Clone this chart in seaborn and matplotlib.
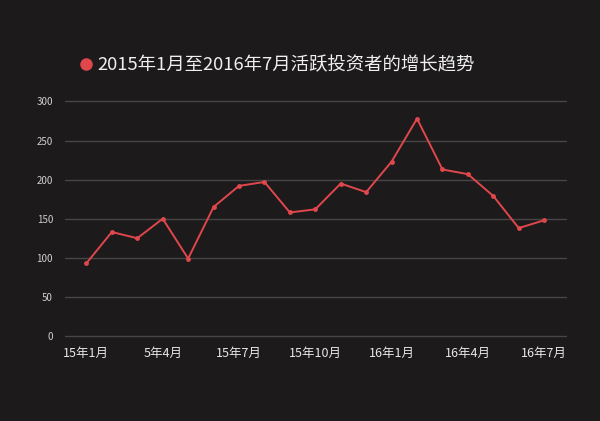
import matplotlib
matplotlib.use("Agg")
import matplotlib.pyplot as plt
import seaborn as sns
import pandas as pd
from matplotlib.lines import Line2D

months = ["15年1月", "15年2月", "15年3月", "5年4月", "15年5月", "15年6月", "15年7月",
          "15年8月", "15年9月", "15年10月", "15年11月", "15年12月", "16年1月",
          "16年2月", "16年3月", "16年4月", "16年5月", "16年6月", "16年7月"]
investors = [93, 133, 125, 150, 99, 165, 192, 197, 158, 162, 195, 184,
             223, 278, 213, 207, 179, 138, 148]
shown_ticks = [0, 3, 6, 9, 12, 15, 18]
title = "2015年1月至2016年7月活跃投资者的增长趋势"

df = pd.DataFrame({"idx": range(len(months)), "month": months, "value": investors})

bg = "#1c1a1b"
red = "#e0474c"

sns.set_theme(style="dark")
plt.rcParams["font.family"] = ["Noto Sans CJK SC", "DejaVu Sans"]

fig = plt.figure(figsize=(6, 4.21), dpi=100, facecolor=bg)
ax = fig.add_axes([0.108, 0.202, 0.835, 0.557])
ax.set_facecolor(bg)

sns.lineplot(data=df, x="idx", y="value", ax=ax, color=red, linewidth=1.4,
             marker="o", markersize=3.5, markeredgewidth=0)

ax.set_ylim(0, 300)
ax.set_yticks([0, 50, 100, 150, 200, 250, 300])
ax.set_xlim(-0.85, len(months) - 1 + 0.85)
ax.set_xticks(shown_ticks)
ax.set_xticklabels([months[i] for i in shown_ticks])
ax.set_xlabel("")
ax.set_ylabel("")
ax.grid(axis="y", color="#474546", linewidth=1)
ax.grid(axis="x", visible=False)
for gl in ax.get_ygridlines():
    gl.set_clip_on(False)
for s in ax.spines.values():
    s.set_visible(False)
ax.tick_params(axis="y", colors="#d0d0d0", labelsize=7, length=0, pad=8.5)
ax.tick_params(axis="x", colors="#e8e8e8", labelsize=9, length=0, pad=8)

handle = Line2D([], [], marker="o", linestyle="none", color=red, markersize=8)
fig.legend([handle], [title], loc="upper left", bbox_to_anchor=(0.1, 0.905),
           frameon=False, handletextpad=0.15, fontsize=13.25, labelcolor="#f0f0f0",
           handlelength=1.0)

fig.savefig("out.png", dpi=100, facecolor=bg)
